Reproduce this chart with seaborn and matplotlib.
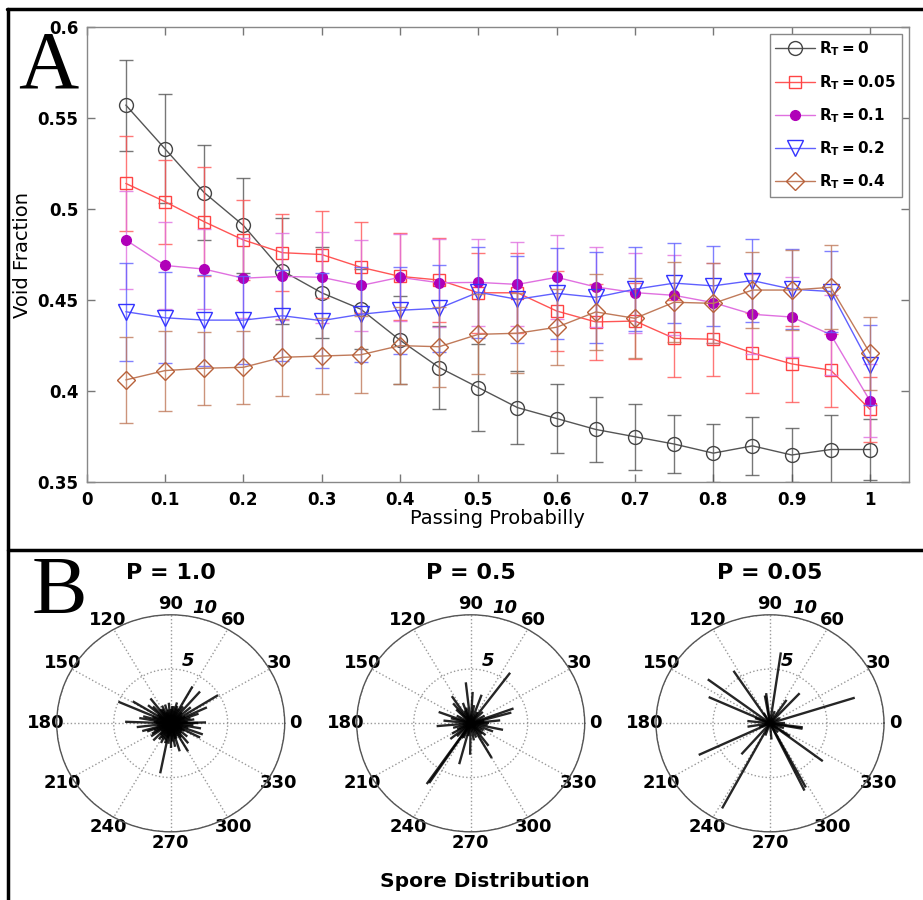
import numpy as np
import matplotlib
matplotlib.use('Agg')
import matplotlib.pyplot as plt
import seaborn as sns
from matplotlib.lines import Line2D

# ---- panel A data: void fraction vs passing probability ----
passing = [0.05, 0.10, 0.15, 0.20, 0.25, 0.30, 0.35, 0.40, 0.45, 0.50,
           0.55, 0.60, 0.65, 0.70, 0.75, 0.80, 0.85, 0.90, 0.95, 1.00]

rt0_mean = [0.557, 0.533, 0.509, 0.491, 0.466, 0.454, 0.445, 0.428, 0.413, 0.402,
            0.391, 0.385, 0.379, 0.375, 0.371, 0.366, 0.370, 0.365, 0.368, 0.368]
rt0_err = [0.025, 0.030, 0.026, 0.026, 0.029, 0.025, 0.022, 0.024, 0.023, 0.024,
           0.020, 0.019, 0.018, 0.018, 0.016, 0.016, 0.016, 0.015, 0.019, 0.017]

rt05_mean = [0.514, 0.504, 0.493, 0.483, 0.476, 0.475, 0.468, 0.463, 0.461, 0.454,
             0.454, 0.444, 0.438, 0.4385, 0.429, 0.4285, 0.421, 0.415, 0.4115, 0.390]
rt05_err = [0.026, 0.023, 0.030, 0.022, 0.021, 0.024, 0.025, 0.024, 0.023, 0.022,
            0.022, 0.022, 0.021, 0.021, 0.021, 0.020, 0.022, 0.021, 0.020, 0.018]

rt1_mean = [0.483, 0.469, 0.467, 0.462, 0.463, 0.4625, 0.458, 0.4625, 0.4595, 0.4597,
            0.4586, 0.4625, 0.4572, 0.4541, 0.4526, 0.4486, 0.4422, 0.4407, 0.431, 0.3947]
rt1_err = [0.027, 0.024, 0.022, 0.022, 0.024, 0.025, 0.025, 0.024, 0.024, 0.024,
           0.023, 0.023, 0.022, 0.022, 0.022, 0.022, 0.022, 0.022, 0.022, 0.020]

rt2_mean = [0.4436, 0.4403, 0.439, 0.439, 0.4414, 0.4387, 0.4422, 0.4444, 0.4455, 0.4543,
            0.4504, 0.4537, 0.4515, 0.456, 0.4593, 0.4578, 0.4607, 0.456, 0.4547, 0.4144]
rt2_err = [0.027, 0.025, 0.025, 0.024, 0.025, 0.026, 0.026, 0.024, 0.024, 0.025,
           0.024, 0.025, 0.025, 0.023, 0.022, 0.022, 0.023, 0.022, 0.022, 0.022]

rt4_mean = [0.4062, 0.4113, 0.4126, 0.4131, 0.4186, 0.4193, 0.420, 0.425, 0.4244, 0.4312,
            0.4318, 0.4351, 0.4435, 0.440, 0.4488, 0.4482, 0.4555, 0.4555, 0.457, 0.4208]
rt4_err = [0.0235, 0.022, 0.020, 0.020, 0.021, 0.021, 0.021, 0.021, 0.022, 0.022,
           0.022, 0.021, 0.021, 0.022, 0.022, 0.022, 0.021, 0.022, 0.023, 0.020]

series_labels = [r'$\mathbf{R_T=0}$', r'$\mathbf{R_T=0.05}$', r'$\mathbf{R_T=0.1}$',
                 r'$\mathbf{R_T=0.2}$', r'$\mathbf{R_T=0.4}$']

x_ticks = [0, 0.1, 0.2, 0.3, 0.4, 0.5, 0.6, 0.7, 0.8, 0.9, 1.0]
x_tick_labels = ['0', '0.1', '0.2', '0.3', '0.4', '0.5', '0.6', '0.7', '0.8', '0.9', '1']
y_ticks = [0.35, 0.40, 0.45, 0.50, 0.55, 0.60]
y_tick_labels = ['0.35', '0.4', '0.45', '0.5', '0.55', '0.6']

# ---- panel B data: spore directions (deg) and lengths ----
p10_angle = [156.6, 32, 48.7, 60.6, 258.7, 178, 148.7, 127.8, 24.8, 1.5,
             340, 333, 300.5, 287, 186.7, 196, 226, 106, 74, 264,
             0, 10, 20, 40, 55, 70, 85, 95, 115, 135, 140, 165, 170, 200, 210,
             215, 235, 245, 250, 270, 275, 280, 310, 320, 350, 355,
             5, 15, 45, 80, 100, 120, 160, 190, 230, 240, 255, 290, 315, 345,
             25, 35, 65, 90, 110, 125, 145, 150, 175, 180, 205, 220, 260, 265,
             285, 295, 305, 325, 330, 335]
p10_len = [5.0, 4.9, 3.9, 3.9, 4.7, 4.0, 3.9, 2.9, 3.5, 3.1,
           3.0, 2.9, 3.0, 2.7, 3.0, 2.6, 2.2, 1.8, 2.0, 1.9,
           2.4, 2.1, 2.6, 2.3, 1.9, 1.7, 1.6, 1.9, 1.8, 2.2, 2.6, 2.5, 2.8, 2.2, 1.9,
           2.1, 1.8, 2.0, 1.6, 2.3, 1.7, 2.2, 2.4, 1.9, 2.7, 2.0,
           1.5, 1.8, 1.4, 1.6, 1.3, 1.5, 1.7, 1.2, 1.4, 1.6, 1.9, 1.5, 1.3, 1.6,
           1.4, 1.2, 1.5, 1.3, 1.1, 1.6, 1.4, 1.2, 1.5, 1.3, 1.6, 1.1, 1.4, 1.2,
           1.5, 1.3, 1.6, 1.2, 1.4, 1.1]

p05_angle = [53.4, 235.4, 236.5, 96.5, 86.6, 20, 15.5, 123.5, 159.6, 185,
             255, 269, 300, 348, 70, 307, 219, 174, 339, 6,
             0, 30, 45, 60, 80, 105, 115, 135, 150, 195, 205, 225, 245, 260, 280,
             290, 320, 330, 355, 10, 130, 110, 165, 210, 240, 315]
p05_len = [5.8, 6.8, 6.6, 3.8, 2.9, 4.0, 3.7, 3.0, 3.0, 3.0,
           3.9, 2.9, 3.7, 2.9, 2.8, 2.6, 2.3, 2.4, 2.1, 2.6,
           1.6, 1.4, 1.5, 1.2, 1.7, 1.5, 1.3, 1.8, 1.4, 1.6, 1.3, 1.7, 1.5, 1.2, 1.6,
           1.4, 1.7, 1.3, 1.5, 1.2, 2.4, 2.0, 1.8, 1.9, 1.6, 1.4]

p005_angle = [81.7, 17.6, 143.4, 155.8, 123.5, 205, 241.8, 296, 298, 323,
              228.7, 46.8, 97, 352.6, 350, 174, 189, 56, 326, 100,
              0, 30, 70, 120, 160, 200, 250, 275, 310, 340]
p005_len = [6.6, 7.8, 6.8, 5.9, 5.8, 6.9, 8.9, 6.9, 6.7, 5.8,
            3.8, 3.8, 2.8, 2.9, 2.9, 2.0, 2.0, 2.6, 2.1, 2.6,
            1.3, 1.0, 1.2, 1.1, 1.4, 1.0, 1.2, 1.5, 1.1, 1.3]

polar_titles = ['P = 1.0', 'P = 0.5', 'P = 0.05']
theta_labels = ['0', '30', '60', '90', '120', '150', '180', '210', '240', '270', '300', '330']

sns.set_theme(style='white')
plt.rcParams['font.family'] = ['DejaVu Sans']
plt.rcParams['mathtext.fontset'] = 'dejavusans'
for key in ['text.color', 'axes.labelcolor', 'xtick.color', 'ytick.color']:
    plt.rcParams[key] = 'black'

fig = plt.figure(figsize=(9.23, 9.0), dpi=100)

# ---- panel A ----
ax = fig.add_axes([0.0939, 0.4641, 0.8911, 0.5062])
means = [rt0_mean, rt05_mean, rt1_mean, rt2_mean, rt4_mean]
errs = [rt0_err, rt05_err, rt1_err, rt2_err, rt4_err]
line_cols = ['#555555', '#ff5555', '#e070e0', '#6060ff', '#c07a5a']
mark_cols = ['#444444', '#ff4444', '#b000b8', '#3333ff', '#b8613a']
markers = ['o', 's', 'o', 'v', 'D']
msizes = [10, 8, 7, 11, 9]
filled = [False, False, True, False, False]

for m, e, lc, mc, mk, ms, fl, lab in zip(means, errs, line_cols, mark_cols,
                                        markers, msizes, filled, series_labels):
    ax.errorbar(passing, m, yerr=e, fmt='none', ecolor=lc, elinewidth=1.0,
                capsize=5, capthick=1.0, alpha=0.8)
    ax.plot(passing, m, color=lc, lw=1.0, marker=mk, ms=ms,
            mfc=mc if fl else 'none', mec=mc, mew=1.0, label=lab)

ax.set_xlim(0, 1.05)
ax.set_ylim(0.35, 0.6)
ax.set_xticks(x_ticks)
ax.set_xticklabels(x_tick_labels, fontsize=12, fontweight='bold')
ax.set_yticks(y_ticks)
ax.set_yticklabels(y_tick_labels, fontsize=12, fontweight='bold')
ax.tick_params(direction='in', length=6, width=1, color='#777777',
               labelcolor='black', top=True, right=True, bottom=True, left=True, pad=6)
for sp in ax.spines.values():
    sp.set_color('#888888')
    sp.set_linewidth(1.0)
ax.set_xlabel('Passing Probabilly', fontsize=14, labelpad=0)
ax.set_ylabel('Void Fraction', fontsize=14)
ax.yaxis.set_label_coords(-0.066, 0.5)
leg = ax.legend(loc='upper right', fontsize=11, handlelength=2.6, fancybox=False,
                framealpha=1, edgecolor='#888888', borderpad=0.35, labelspacing=0.95,
                handletextpad=0.3, borderaxespad=0.5)
leg.get_frame().set_linewidth(1.0)

# ---- panel B ----
centers = [170.7, 470.7, 770.0]
angle_sets = [p10_angle, p05_angle, p005_angle]
len_sets = [p10_len, p05_len, p005_len]
W, H = 923.0, 900.0
pw, ph = 228.0, 217.0
cy = 723.3
for cx, angs, lens, title in zip(centers, angle_sets, len_sets, polar_titles):
    pax = fig.add_axes([(cx - pw / 2) / W, (H - cy - ph / 2) / H, pw / W, ph / H],
                       projection='polar')
    pax.set_aspect('auto')
    th = np.deg2rad(angs)
    pax.vlines(th, 0, lens, color='black', lw=1.7, alpha=0.85)
    pax.set_ylim(0, 10)
    pax.set_thetagrids(np.arange(0, 360, 30), labels=theta_labels,
                       fontsize=13, fontweight='bold')
    pax.set_rgrids([5, 10], labels=['5', '10'], angle=79, fontsize=13,
                   fontstyle='italic', fontweight='bold')
    pax.grid(True, linestyle=':', color='#999999', lw=1.0)
    pax.spines['polar'].set_color('#555555')
    pax.spines['polar'].set_linewidth(1.0)
    pax.tick_params(axis='x', pad=-5)
    pax.set_facecolor('white')
    fig.text(cx / W, 1 - 572.7 / H, title, ha='center', va='center',
             fontsize=16, fontweight='bold')

fig.text(485 / W, 1 - 881.7 / H, 'Spore Distribution', ha='center', va='center',
         fontsize=14.5, fontweight='bold')

# panel letters
fig.text(18 / W, 1 - 68 / H, 'A', family='Liberation Serif', fontsize=60,
         ha='left', va='center')
fig.text(32 / W, 1 - 593 / H, 'B', family='Liberation Serif', fontsize=60,
         ha='left', va='center')

# frame lines
frame_kw = dict(color='black', lw=2.5, transform=fig.transFigure)
fig.add_artist(Line2D([7.5 / W, 1], [1 - 9 / H, 1 - 9 / H], **frame_kw))
fig.add_artist(Line2D([8 / W, 8 / W], [0, 1 - 9 / H], **frame_kw))
fig.add_artist(Line2D([8 / W, 1], [1 - 550 / H, 1 - 550 / H], **frame_kw))

fig.savefig('out.png', dpi=100)
